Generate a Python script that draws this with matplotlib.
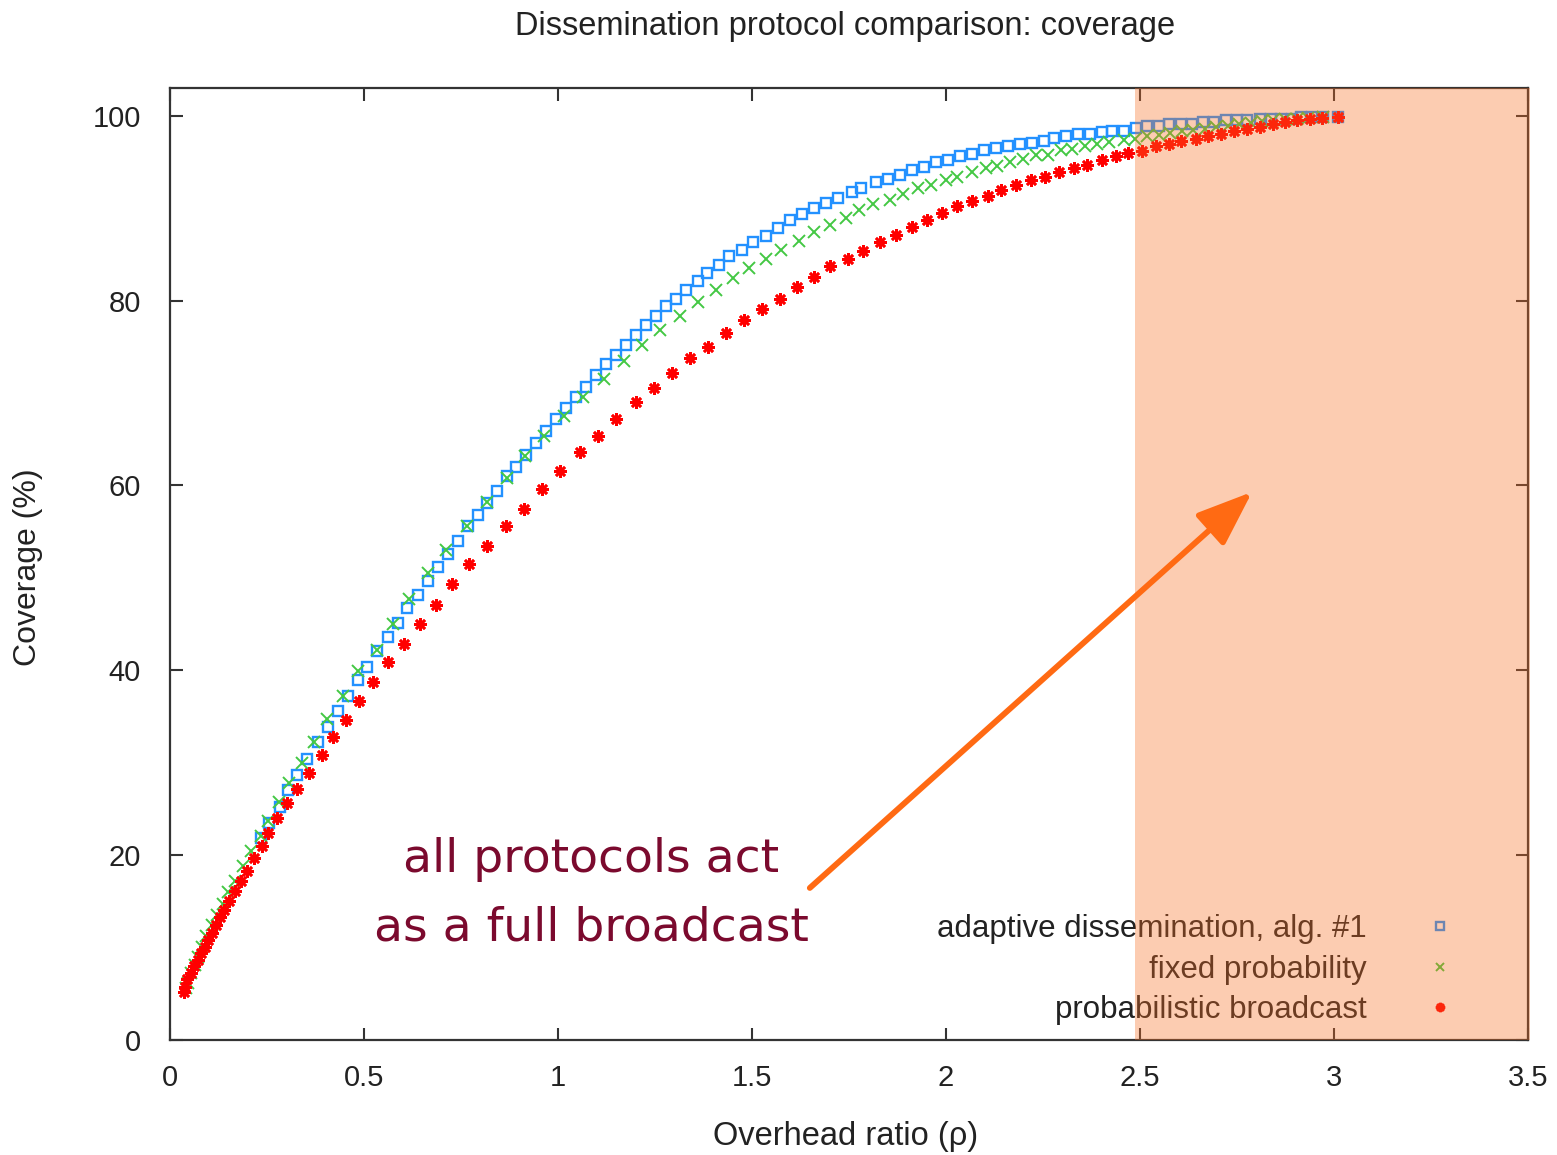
import matplotlib.pyplot as pl
from matplotlib.patches import ArrowStyle

# overhead ratio (rho) and coverage (%)
adaptive_rho = [
    0.234, 0.256, 0.284, 0.303, 0.327, 0.352, 0.381, 0.406, 0.432, 0.460,
    0.484, 0.509, 0.534, 0.561, 0.587, 0.612, 0.638, 0.664, 0.690, 0.716,
    0.741, 0.767, 0.793, 0.818, 0.844, 0.869, 0.891, 0.917, 0.943, 0.968,
    0.994, 1.020, 1.046, 1.071, 1.098, 1.123, 1.149, 1.174, 1.200, 1.226,
    1.252, 1.278, 1.303, 1.329, 1.360, 1.385, 1.416, 1.441, 1.473, 1.503,
    1.535, 1.568, 1.597, 1.628, 1.659, 1.690, 1.722, 1.757, 1.782, 1.819,
    1.850, 1.881, 1.912, 1.943, 1.975, 2.004, 2.036, 2.066, 2.097, 2.128,
    2.160, 2.191, 2.221, 2.253, 2.278, 2.308, 2.340, 2.371, 2.403, 2.429,
    2.458, 2.489, 2.517, 2.548, 2.576, 2.606, 2.634, 2.663, 2.692, 2.721,
    2.749, 2.777, 2.810, 2.838, 2.864, 2.892, 2.915, 2.943, 2.972, 3.010,
]
adaptive_cov = [
    21.9, 23.5, 25.2, 27.0, 28.7, 30.4, 32.2, 33.9, 35.6, 37.2,
    38.9, 40.4, 42.1, 43.6, 45.1, 46.7, 48.2, 49.7, 51.2, 52.6,
    54.0, 55.6, 56.8, 58.1, 59.4, 61.0, 62.0, 63.3, 64.6, 65.9,
    67.2, 68.4, 69.6, 70.7, 72.0, 73.1, 74.1, 75.2, 76.3, 77.4,
    78.3, 79.4, 80.2, 81.1, 82.1, 83.0, 83.9, 84.8, 85.5, 86.3,
    87.0, 87.8, 88.7, 89.4, 90.0, 90.6, 91.1, 91.7, 92.2, 92.8,
    93.2, 93.6, 94.1, 94.5, 95.0, 95.2, 95.6, 95.9, 96.3, 96.5,
    96.7, 96.9, 97.1, 97.3, 97.6, 97.8, 98.0, 98.0, 98.2, 98.4,
    98.4, 98.7, 98.9, 98.9, 99.1, 99.1, 99.1, 99.3, 99.3, 99.5,
    99.5, 99.5, 99.7, 99.7, 99.7, 99.7, 99.9, 99.9, 99.9, 99.9,
]

fixed_rho = [
    0.040, 0.047, 0.055, 0.064, 0.073, 0.083, 0.094, 0.107, 0.120, 0.136,
    0.150, 0.168, 0.189, 0.209, 0.234, 0.253, 0.282, 0.307, 0.340, 0.372,
    0.405, 0.447, 0.484, 0.533, 0.574, 0.617, 0.664, 0.711, 0.765, 0.816,
    0.868, 0.915, 0.965, 1.015, 1.065, 1.119, 1.170, 1.217, 1.263, 1.314,
    1.360, 1.406, 1.452, 1.493, 1.535, 1.575, 1.621, 1.659, 1.700, 1.742,
    1.777, 1.812, 1.856, 1.890, 1.927, 1.962, 1.999, 2.028, 2.066, 2.102,
    2.132, 2.164, 2.198, 2.231, 2.263, 2.297, 2.326, 2.358, 2.389, 2.420,
    2.458, 2.487, 2.517, 2.548, 2.578, 2.608, 2.637, 2.667, 2.696, 2.726,
    2.755, 2.785, 2.815, 2.844, 2.874, 2.904, 2.933, 2.972,
]
fixed_cov = [
    5.6, 6.2, 7.2, 8.1, 9.0, 10.1, 11.3, 12.4, 13.5, 14.7,
    16.0, 17.2, 18.8, 20.5, 22.1, 23.7, 25.7, 27.8, 30.0, 32.2,
    34.7, 37.2, 39.9, 42.2, 45.0, 47.7, 50.5, 53.0, 55.6, 58.2,
    60.8, 63.2, 65.3, 67.5, 69.6, 71.5, 73.5, 75.2, 76.8, 78.3,
    79.8, 81.1, 82.4, 83.5, 84.5, 85.5, 86.5, 87.4, 88.2, 88.9,
    89.8, 90.4, 90.9, 91.5, 92.2, 92.5, 93.1, 93.4, 93.9, 94.3,
    94.6, 95.0, 95.3, 95.7, 95.8, 96.3, 96.4, 96.7, 96.9, 97.2,
    97.4, 97.5, 97.8, 97.9, 98.1, 98.3, 98.5, 98.6, 98.8, 98.9,
    99.1, 99.2, 99.4, 99.5, 99.6, 99.7, 99.8, 99.9,
]

prob_rho = [
    0.036, 0.039, 0.045, 0.054, 0.062, 0.071, 0.079, 0.089, 0.097, 0.107,
    0.119, 0.129, 0.140, 0.153, 0.168, 0.183, 0.199, 0.216, 0.236, 0.253,
    0.275, 0.302, 0.328, 0.359, 0.391, 0.421, 0.453, 0.488, 0.524, 0.561,
    0.603, 0.644, 0.685, 0.726, 0.771, 0.818, 0.865, 0.912, 0.958, 1.005,
    1.057, 1.102, 1.149, 1.201, 1.247, 1.293, 1.340, 1.386, 1.433, 1.479,
    1.525, 1.571, 1.616, 1.659, 1.700, 1.747, 1.787, 1.829, 1.870, 1.912,
    1.952, 1.989, 2.029, 2.067, 2.108, 2.142, 2.181, 2.220, 2.256, 2.292,
    2.329, 2.364, 2.401, 2.437, 2.468, 2.504, 2.541, 2.575, 2.606, 2.644,
    2.675, 2.710, 2.743, 2.777, 2.810, 2.844, 2.874, 2.904, 2.938, 2.970,
    3.010,
]
prob_cov = [
    5.2, 5.7, 6.6, 7.3, 8.0, 8.7, 9.4, 10.1, 10.8, 11.6,
    12.4, 13.3, 14.1, 15.0, 16.1, 17.2, 18.3, 19.7, 21.0, 22.4,
    24.0, 25.6, 27.2, 28.9, 30.8, 32.8, 34.6, 36.7, 38.7, 40.9,
    42.8, 45.0, 47.1, 49.3, 51.5, 53.4, 55.6, 57.5, 59.6, 61.6,
    63.6, 65.3, 67.2, 69.0, 70.5, 72.2, 73.8, 75.0, 76.5, 77.9,
    79.1, 80.2, 81.5, 82.6, 83.7, 84.5, 85.4, 86.3, 87.1, 88.0,
    88.7, 89.5, 90.2, 90.8, 91.3, 92.0, 92.5, 93.1, 93.4, 93.9,
    94.3, 94.7, 95.2, 95.6, 96.0, 96.2, 96.7, 96.9, 97.3, 97.5,
    97.8, 98.0, 98.4, 98.6, 98.8, 99.1, 99.3, 99.5, 99.7, 99.8,
    99.9,
]

series_labels = [
    "adaptive dissemination, alg. #1",
    "fixed probability",
    "probabilistic broadcast",
]
x_ticks = [0, 0.5, 1, 1.5, 2, 2.5, 3, 3.5]
x_tick_labels = ["0", "0.5", "1", "1.5", "2", "2.5", "3", "3.5"]
y_ticks = [0, 20, 40, 60, 80, 100]
full_broadcast_start = 2.486
annotation_lines = ["all protocols act", "as a full broadcast"]

W, H = 1557, 1155
fontsize = 21
text_color = "#222222"
orange = "#F96F22"

pl.rcParams["font.family"] = ["Liberation Sans", "DejaVu Sans"]

fig = pl.figure(figsize=(W / 100, H / 100), dpi=100)
ax = fig.add_axes([170 / W, 115 / H, 1358 / W, 952 / H])

ax.plot(adaptive_rho, adaptive_cov, ls="none", marker="s", ms=7, mfc="none",
        mec="#2391FF", mew=1.7, label=series_labels[0], zorder=3)
ax.plot(fixed_rho, fixed_cov, ls="none", marker="x", ms=8, mec="#44C844",
        mew=1.4, label=series_labels[1], zorder=3)
ax.plot(prob_rho, prob_cov, ls="none", marker=(8, 2, 0), ms=9, mec="#FF0000",
        mew=1.9, label=series_labels[2], zorder=3)

ax.set_xlim(0, 3.5)
ax.set_ylim(0, 103)
ax.set_xticks(x_ticks)
ax.set_xticklabels(x_tick_labels)
ax.set_yticks(y_ticks)
ax.tick_params(direction="in", top=True, right=True, length=9, width=1.5,
               colors="#333333", labelcolor=text_color, labelsize=fontsize)
ax.tick_params(axis="y", pad=21)
ax.tick_params(axis="x", pad=17)
for spine in ax.spines.values():
    spine.set_linewidth(1.6)
    spine.set_color("#333333")

leg = ax.legend(loc="lower right", bbox_to_anchor=(1456 / W, 1 - 1025 / H),
                bbox_transform=fig.transFigure, frameon=False, markerfirst=False,
                fontsize=22.5, handlelength=1.0, handletextpad=1.85, labelspacing=0.33,
                borderpad=0, borderaxespad=0, markerscale=0.75)
for t in leg.get_texts():
    t.set_color(text_color)

# translucent band laid over everything (except the arrow)
ax.axvspan(full_broadcast_start, 3.506, color=orange, alpha=0.35, lw=0,
           zorder=6, clip_on=False)

ax.annotate("", xy=(2.789, 59.3), xytext=(1.649, 16.45),
            arrowprops=dict(arrowstyle=ArrowStyle("-|>", head_length=34, head_width=13),
                            mutation_scale=1, color="#FF6A13", lw=4.2,
                            shrinkA=0, shrinkB=0),
            zorder=8)
ax.text(1.085, 18.2, annotation_lines[0], ha="center", va="baseline",
        fontsize=34, color="#7B0A2E", family="DejaVu Sans", zorder=8)
ax.text(1.085, 10.8, annotation_lines[1], ha="center", va="baseline",
        fontsize=34, color="#7B0A2E", family="DejaVu Sans", zorder=8)

fig.text(845 / W, 1 - 27 / H, "Dissemination protocol comparison: coverage",
         ha="center", va="center", fontsize=23.5, color=text_color)
fig.text(846 / W, 1 - 1137 / H, "Overhead ratio (ρ)", ha="center", va="center",
         fontsize=23.5, color=text_color)
fig.text(28 / W, 1 - 567 / H, "Coverage (%)", ha="center", va="center",
         rotation=90, fontsize=23, color=text_color)

fig.savefig("out.png", dpi=100)
